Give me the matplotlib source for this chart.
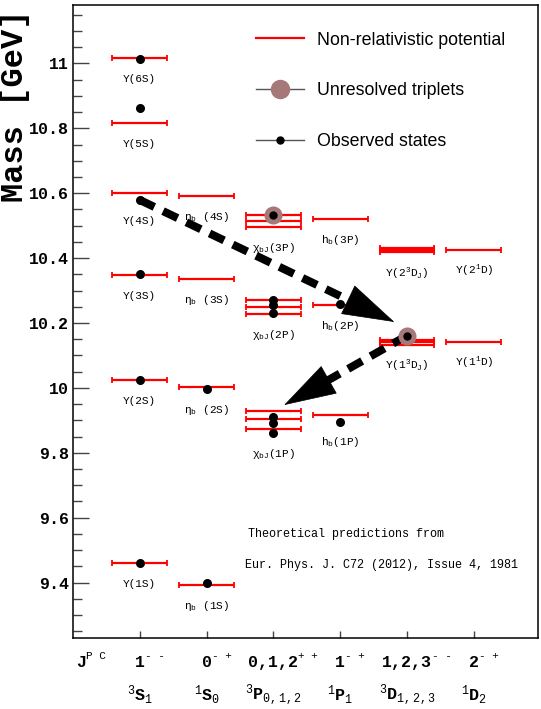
import numpy as np
import matplotlib
matplotlib.use("Agg")
import matplotlib.pyplot as plt
from matplotlib.lines import Line2D
from matplotlib.ticker import MultipleLocator, FuncFormatter

plt.rcParams['font.family'] = ['Liberation Mono', 'DejaVu Sans']
plt.rcParams['mathtext.fontset'] = 'custom'
plt.rcParams['mathtext.rm'] = 'Liberation Mono'
plt.rcParams['mathtext.it'] = 'Liberation Mono'
plt.rcParams['mathtext.bf'] = 'Liberation Mono:bold'

# --- Bottomonium levels (GeV) ---
labels = ["Y(1S)", "Y(2S)", "Y(3S)", "Y(4S)", "Y(5S)", "Y(6S)",
          r"$\eta_{b}$ (1S)", r"$\eta_{b}$ (2S)", r"$\eta_{b}$ (3S)", r"$\eta_{b}$ (4S)",
          r"$\chi_{bJ}$(1P)", r"$\chi_{bJ}$(2P)", r"$\chi_{bJ}$(3P)",
          r"h$_{b}$(1P)", r"h$_{b}$(2P)", r"h$_{b}$(3P)",
          r"Y(1$^{3}$D$_{J}$)", r"Y(2$^{3}$D$_{J}$)",
          r"Y(1$^{1}$D)", r"Y(2$^{1}$D)"]
columns = [1, 1, 1, 1, 1, 1,
           2, 2, 2, 2,
           3, 3, 3,
           4, 4, 4,
           5, 5,
           6, 6]
# non-relativistic potential predictions
predicted = [[9.459], [10.024], [10.348], [10.601], [10.817], [11.018],
             [9.392], [10.003], [10.334], [10.591],
             [9.873, 9.904, 9.929], [10.227, 10.249, 10.271], [10.495, 10.515, 10.532],
             [9.916], [10.255], [10.519],
             [10.133, 10.140, 10.147], [10.418, 10.424, 10.430],
             [10.142], [10.425]]
# measured masses
observed = [[9.459], [10.024], [10.351], [10.579], [10.863], [11.015],
            [9.397], [9.996], [], [],
            [9.860, 9.891, 9.911], [10.230, 10.255, 10.271], [],
            [9.896], [10.258], [],
            [], [],
            [], []]
# unresolved triplets
unresolved = [[], [], [], [], [], [],
              [], [], [], [],
              [], [], [10.532],
              [], [], [],
              [10.161], [],
              [], []]

jpc_main = ["1", "0", "0,1,2", "1", "1,2,3", "2"]
jpc_sup = ["- -", "- +", "+ +", "- +", "- -", "- +"]
term_labels = [r"$^{3}$S$_{1}$", r"$^{1}$S$_{0}$", r"$^{3}$P$_{0,1,2}$",
               r"$^{1}$P$_{1}$", r"$^{3}$D$_{1,2,3}$", r"$^{1}$D$_{2}$"]

# transitions drawn as dashed arrows (start, tip)
arrow_from = [(1, 10.579), (5, 10.161)]
arrow_to = [(4.81, 10.203), (3.16, 9.947)]

triplet_color = "#a67878"

fig = plt.figure(figsize=(5.41, 7.09), dpi=100)
ax = fig.add_axes([73 / 541, 71 / 709, 465 / 541, 633 / 709])
ax.set_xlim(0, 6.96)
ax.set_ylim(9.229, 11.18)

for lab, col, pred, obs, unr in zip(labels, columns, predicted, observed, unresolved):
    ax.errorbar([col] * len(pred), pred, xerr=0.41, fmt='none', ecolor='red',
                elinewidth=1.6, capsize=2.5, capthick=1.3, zorder=2)
    if unr:
        ax.plot([col] * len(unr), unr, 'o', color=triplet_color, ms=13, mew=0, zorder=5)
        ax.plot([col] * len(unr), unr, 'o', color='black', ms=6, mew=0, zorder=6)
    if obs:
        ax.plot([col] * len(obs), obs, 'o', color='black', ms=6.5, mew=0, zorder=6)
    ymin = min(pred + obs + unr)
    ax.annotate(lab, (col, ymin), xytext=(0, -15), textcoords='offset points',
                ha='center', va='center', fontsize=8)

# arrows: dashed shaft, solid head
head_px = 50
for (x0, y0), (x1, y1) in zip(arrow_from, arrow_to):
    p0 = ax.transData.transform((x0, y0))
    p1 = ax.transData.transform((x1, y1))
    d = (p1 - p0) / np.hypot(*(p1 - p0))
    bx, by = ax.transData.inverted().transform(p1 - d * head_px)
    ax.plot([x0, bx], [y0, by], color='black', lw=5.8, ls=(0, (2, 1.2)), zorder=4)
    ax.annotate("", xy=(x1, y1), xytext=(bx, by),
                arrowprops=dict(arrowstyle="-|>,head_length=3.6,head_width=1.1",
                                mutation_scale=10, color='black', lw=0.5,
                                shrinkA=0, shrinkB=0), zorder=4)

# axes styling
for s in ax.spines.values():
    s.set_linewidth(1.1)
ax.yaxis.set_major_locator(MultipleLocator(0.2))
ax.yaxis.set_minor_locator(MultipleLocator(0.05))
ax.yaxis.set_major_formatter(FuncFormatter(lambda v, p: f"{v:g}"))
ax.tick_params(axis='y', which='major', direction='in', length=11.5, width=1,
               color='#444444', labelsize=12, pad=3)
ax.tick_params(axis='y', which='minor', direction='in', length=6.3, width=1,
               color='#444444')
for t in ax.get_yticklabels():
    t.set_fontweight('bold')
ax.set_xticks(range(1, 7))
ax.set_xticklabels([])
ax.tick_params(axis='x', direction='in', length=5, width=1, color='#444444')

renderer = fig.canvas.get_renderer()
xt = ax.get_xaxis_transform()
for i, (jm, js, tl) in enumerate(zip(jpc_main, jpc_sup, term_labels)):
    t = ax.text(i + 1, -0.038, jm, transform=xt, ha='center', va='center',
                fontsize=12, fontweight='bold')
    bb = t.get_window_extent(renderer)
    fig.text(bb.x1 / 541, (bb.y1 + 4) / 709, js, ha='left', va='top', fontsize=8)
    ax.text(i + 1, -0.091, tl, transform=xt, ha='center', va='center',
            fontsize=12, fontweight='bold')
t = ax.text(0.006, -0.038, "J", transform=ax.transAxes, ha='left', va='center',
            fontsize=12, fontweight='bold')
bb = t.get_window_extent(renderer)
fig.text(bb.x1 / 541, (bb.y1 + 4) / 709, "P C", ha='left', va='top', fontsize=8)

fig.text(15 / 541, 1 - 106 / 709, "Mass [GeV]", rotation=90, ha='center',
         va='center', fontsize=23, fontweight='bold')

ax.text(0.377, 0.165, "Theoretical predictions from", transform=ax.transAxes,
        fontsize=8.5, ha='left', va='center')
ax.text(0.370, 0.115, "Eur. Phys. J. C72 (2012), Issue 4, 1981",
        transform=ax.transAxes, fontsize=8.5, ha='left', va='center')

handles = [Line2D([], [], color='red', lw=1.6),
           Line2D([], [], color='#555555', lw=1, marker='o', ms=13,
                  mfc=triplet_color, mec=triplet_color),
           Line2D([], [], color='#555555', lw=1, marker='o', ms=5, mfc='k', mec='k')]
ax.legend(handles, ["Non-relativistic potential", "Unresolved triplets", "Observed states"],
          loc='upper left', bbox_to_anchor=(0.394, 0.958), frameon=False,
          borderpad=0, borderaxespad=0, handlelength=2.7, handletextpad=0.7,
          labelspacing=1.9, prop={'family': 'Liberation Sans', 'size': 12.8})

fig.savefig("out.png", dpi=100)
